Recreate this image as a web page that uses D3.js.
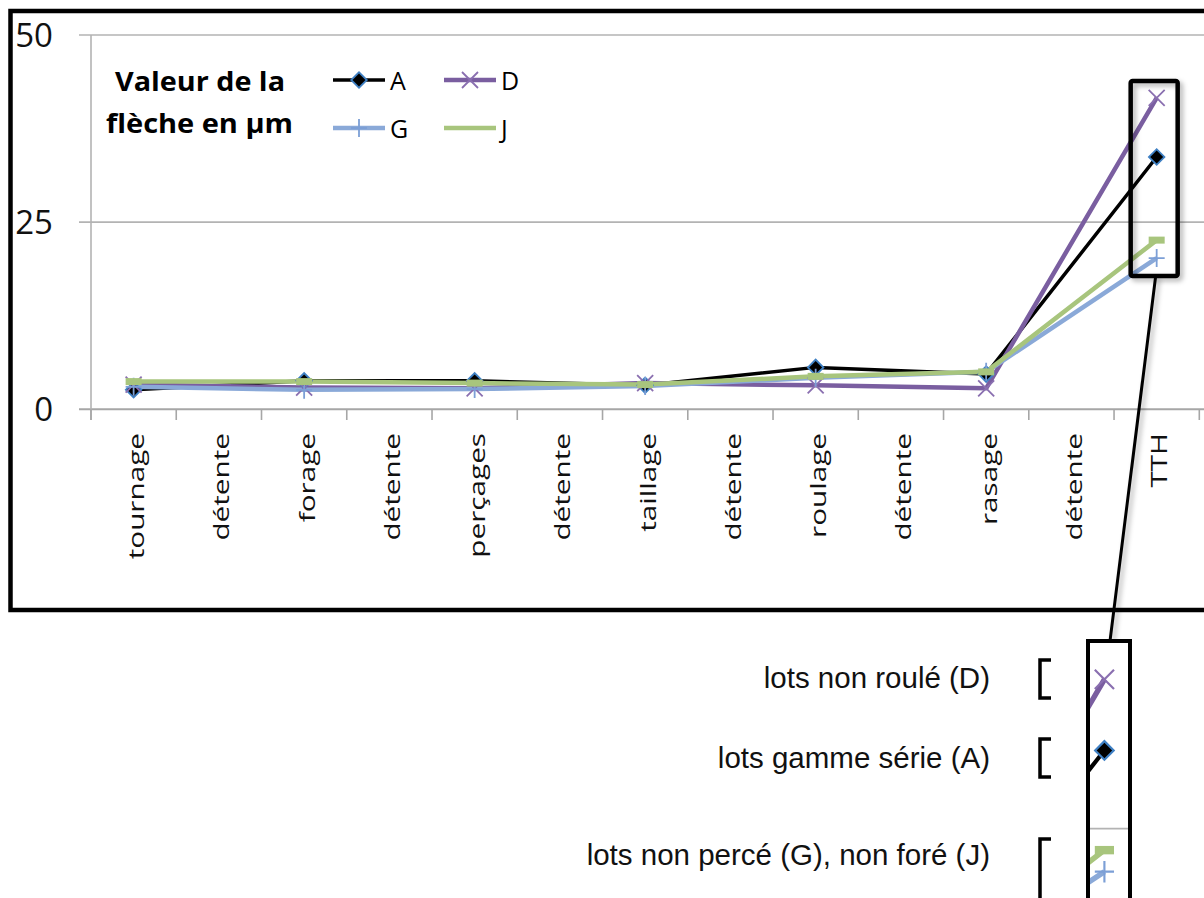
<!DOCTYPE html>
<html>
<head>
<meta charset="utf-8">
<script src="https://cdn.jsdelivr.net/npm/d3@7/dist/d3.min.js"></script>
<style>
  html, body { margin: 0; padding: 0; background: #fff; }
  svg { display: block; }
</style>
</head>
<body>
<script>
// ---------- data ----------
const categories = ["tournage", "détente", "forage", "détente", "perçages", "détente",
  "taillage", "détente", "roulage", "détente", "rasage", "détente", "TTH"];
const valuesA = [2.6, null, 3.8, null, 3.8, null, 3.2, null, 5.6, null, 4.7, null, 33.7];
const valuesD = [3.3, null, 2.9, null, 2.8, null, 3.5, null, 3.2, null, 2.8, null, 41.6];
const valuesG = [3.0, null, 2.6, null, 2.7, null, 3.1, null, 4.2, null, 5.0, null, 20.2];
const valuesJ = [3.7, null, 3.7, null, 3.5, null, 3.3, null, 4.4, null, 5.0, null, 22.6];
const seriesNames = ["A", "D", "G", "J"];
const yTicks = [0, 25, 50];
const legendTitle = ["Valeur de la", "flèche en µm"];
const calloutLabels = ["lots non roulé (D)", "lots gamme série (A)", "lots non percé (G), non foré (J)"];

// ---------- styles ----------
const styles = {
  A: { color: "#000000", width: 3.5, marker: "diamond" },
  D: { color: "#7a5ea0", width: 4.5, marker: "x" },
  G: { color: "#8aa9d8", width: 4.5, marker: "plus" },
  J: { color: "#a8c57d", width: 4.5, marker: "dash" }
};
const seriesValues = { A: valuesA, D: valuesD, G: valuesG, J: valuesJ };

const W = 1204, H = 898;
const svg = d3.select("body").append("svg").attr("width", W).attr("height", H);

const defs = svg.append("defs");
const sh = defs.append("filter").attr("id", "shadow").attr("x", "-50%").attr("y", "-50%").attr("width", "200%").attr("height", "200%");
sh.append("feDropShadow").attr("dx", 3).attr("dy", 3).attr("stdDeviation", 2.5).attr("flood-color", "#000").attr("flood-opacity", 0.3);

const x = d3.scaleBand().domain(d3.range(categories.length)).range([91, 1199.3]).paddingInner(0).paddingOuter(0);
const y = d3.scaleLinear().domain([0, 50]).range([409.3, 35]);
const cx = i => x(i) + x.bandwidth() / 2;

function markerPath(type) {
  switch (type) {
    case "x": return "M-8,-8L8,8M-8,8L8,-8";
    case "plus": return "M-8,0L8,0M0,-9L0,9";
    default: return null;
  }
}

function drawMarker(g, type, px, py, st) {
  if (type === "diamond") {
    g.append("path")
      .attr("d", d3.symbol(d3.symbolSquare, 120)())
      .attr("transform", `translate(${px},${py}) rotate(45)`)
      .attr("fill", "#000").attr("stroke", "#3f80c4").attr("stroke-width", 1.8);
  } else if (type === "x") {
    g.append("path").attr("d", markerPath("x")).attr("transform", `translate(${px},${py})`)
      .attr("fill", "none").attr("stroke", "#8a6fb0").attr("stroke-width", 1.8);
  } else if (type === "plus") {
    g.append("path").attr("d", markerPath("plus")).attr("transform", `translate(${px},${py})`)
      .attr("fill", "none").attr("stroke", "#7c9fd6").attr("stroke-width", 1.8);
  } else if (type === "dash") {
    g.append("rect").attr("x", px - 8).attr("y", py - 3.5).attr("width", 16).attr("height", 7)
      .attr("fill", st.color);
  }
}

function drawSeries(g) {
  const line = d3.line().x(d => cx(d.i)).y(d => y(d.v));
  seriesNames.forEach(name => {
    const st = styles[name];
    const pts = seriesValues[name].map((v, i) => ({ i, v })).filter(d => d.v !== null);
    g.append("path").datum(pts).attr("d", line)
      .attr("fill", "none").attr("stroke", st.color).attr("stroke-width", st.width)
      .attr("stroke-linejoin", "round");
  });
  seriesNames.forEach(name => {
    const st = styles[name];
    const pts = seriesValues[name].map((v, i) => ({ i, v })).filter(d => d.v !== null);
    pts.forEach(d => drawMarker(g, st.marker, cx(d.i), y(d.v), st));
  });
}

// ---------- outer frame ----------
svg.append("rect").attr("x", 10.5).attr("y", 11).attr("width", 1230).attr("height", 599)
  .attr("fill", "#fff").attr("stroke", "#000").attr("stroke-width", 4.5);

// ---------- gridlines & axes ----------
const gridG = svg.append("g");
gridG.selectAll("line.grid").data(yTicks).join("line")
  .attr("x1", 79).attr("x2", W).attr("y1", d => y(d)).attr("y2", d => y(d))
  .attr("stroke", d => d === 0 ? "#a6a6a6" : "#b3b3b3").attr("stroke-width", d => d === 0 ? 2 : 1.6);
gridG.append("line").attr("x1", 91).attr("x2", 91).attr("y1", y(50)).attr("y2", 420)
  .attr("stroke", "#b3b3b3").attr("stroke-width", 1.6);
gridG.selectAll("line.tick").data(d3.range(categories.length + 1)).join("line")
  .attr("x1", i => 91 + i * x.step()).attr("x2", i => 91 + i * x.step())
  .attr("y1", y(0)).attr("y2", 420)
  .attr("stroke", "#a6a6a6").attr("stroke-width", 1.6);

svg.append("g").selectAll("text").data(yTicks).join("text")
  .attr("x", 53).attr("y", d => y(d) + 12)
  .attr("text-anchor", "end")
  .attr("font-family", "Open Sans, sans-serif").attr("font-size", 33)
  .attr("fill", "#111").text(d => d);

svg.append("g").selectAll("text").data(categories).join("text")
  .attr("transform", (d, i) => `translate(${cx(i) + 10.5},433) rotate(-90) scale(1.35,1)`)
  .attr("text-anchor", "end")
  .attr("font-family", "Open Sans, sans-serif").attr("font-size", 22)
  .attr("fill", "#111").text(d => d);

// ---------- series ----------
drawSeries(svg.append("g"));

// ---------- legend ----------
const lg = svg.append("g");
lg.selectAll("text.title").data(legendTitle).join("text")
  .attr("x", (d, i) => i === 0 ? 115 : 106).attr("y", (d, i) => i === 0 ? 90.5 : 132.5)
  .attr("textLength", (d, i) => i === 0 ? 170 : 187).attr("lengthAdjust", "spacingAndGlyphs")
  .attr("font-family", "Open Sans, sans-serif").attr("font-weight", "bold").attr("font-size", 27)
  .attr("fill", "#000").text(d => d);

const legPos = { A: [333, 80], D: [444, 80], G: [333, 128], J: [444, 128] };
seriesNames.forEach(name => {
  const st = styles[name];
  const [lx, ly] = legPos[name];
  lg.append("line").attr("x1", lx).attr("x2", lx + 52).attr("y1", ly).attr("y2", ly)
    .attr("stroke", st.color).attr("stroke-width", st.width);
  if (st.marker !== "dash") drawMarker(lg, st.marker, lx + 26, ly, st);
  lg.append("text").attr("x", lx + 57).attr("y", ly + 10)
    .attr("font-family", "Open Sans, sans-serif").attr("font-size", 25)
    .attr("fill", "#000").text(name);
});

// ---------- highlight box on TTH ----------
const last = categories.length - 1;
const boxTop = y(seriesValues.D[last]) - 17, boxBot = y(seriesValues.G[last]) + 18;
svg.append("rect").attr("x", cx(last) - 26).attr("y", boxTop).attr("width", 47).attr("height", boxBot - boxTop)
  .attr("rx", 2).attr("fill", "none").attr("stroke", "#000").attr("stroke-width", 4.5)
  .attr("filter", "url(#shadow)");

// connector
svg.append("line").attr("x1", cx(last) - 1).attr("y1", boxBot).attr("x2", 1110).attr("y2", 641)
  .attr("stroke", "#000").attr("stroke-width", 3).attr("filter", "url(#shadow)");

// ---------- callout (magnified view) ----------
const clip = defs.append("clipPath").attr("id", "calloutClip");
clip.append("rect").attr("x", 1090).attr("y", 641).attr("width", 38).attr("height", 260);
const zoomG = svg.append("g").attr("clip-path", "url(#calloutClip)");
zoomG.append("rect").attr("x", 1090).attr("y", 641).attr("width", 38).attr("height", 260).attr("fill", "#fff");
const inner = zoomG.append("g").attr("transform", "translate(-283.6,562) scale(1.2)");
inner.selectAll("line.g").data(yTicks).join("line")
  .attr("x1", 79).attr("x2", W).attr("y1", d => y(d)).attr("y2", d => y(d))
  .attr("stroke", "#b3b3b3").attr("stroke-width", 1.4);
drawSeries(inner);
svg.append("rect").attr("x", 1088).attr("y", 641).attr("width", 42).attr("height", 280)
  .attr("fill", "none").attr("stroke", "#000").attr("stroke-width", 4);

// labels & brackets
const calloutY = [688, 768, 865];
const bracketY = [[660, 698], [739, 777], [839, 900]];
svg.append("g").selectAll("text").data(calloutLabels).join("text")
  .attr("x", 990).attr("y", (d, i) => calloutY[i])
  .attr("text-anchor", "end")
  .attr("font-family", "Liberation Sans, Arial, sans-serif").attr("font-size", 29.5)
  .attr("fill", "#111").text(d => d);
svg.append("g").selectAll("path").data(bracketY).join("path")
  .attr("d", d => `M1051,${d[0]}H1040V${d[1]}H1051`)
  .attr("fill", "none").attr("stroke", "#000").attr("stroke-width", 3.5);
</script>
</body>
</html>
